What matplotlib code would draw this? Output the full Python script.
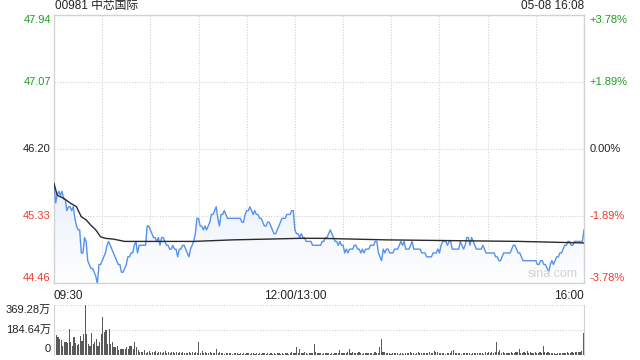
import numpy as np
import matplotlib

matplotlib.use("Agg")
import matplotlib.pyplot as plt
from matplotlib.colors import LinearSegmentedColormap
from matplotlib.transforms import blended_transform_factory

plt.rcParams["font.family"] = ["Liberation Sans", "Noto Sans CJK SC", "DejaVu Sans"]

TITLE = "00981 中芯国际"
STAMP = "05-08 16:08"
PREV_CLOSE = 46.20

# price ticks (left) and percent labels (right)
price_ticks = [44.46, 45.33, 46.20, 47.07, 47.94]
price_labels = ["44.46", "45.33", "46.20", "47.07", "47.94"]
pct_labels = ["-3.78%", "-1.89%", "0.00%", "+1.89%", "+3.78%"]

# time axis: minutes from 09:30, 12:00 and 13:00 share minute 150
time_ticks = [0, 150, 330]
time_labels = ["09:30", "12:00/13:00", "16:00"]

vol_ticks = [0, 184.64, 369.28]
vol_labels = ["0", "184.64万", "369.28万"]

# last price, one value per minute
price = [
    45.75, 45.50, 45.60, 45.65, 45.60, 45.65, 45.55, 45.55, 45.40, 45.45,
    45.45, 45.40, 45.45, 45.30, 45.20, 45.15, 45.15, 44.85, 44.85, 45.05,
    45.00, 44.75, 44.70, 44.65, 44.65, 44.60, 44.55, 44.45, 44.70, 44.70,
    44.75, 44.80, 44.85, 44.95, 45.00, 44.95, 44.90, 44.85, 44.80, 44.75,
    44.70, 44.70, 44.60, 44.60, 44.65, 44.70, 44.80, 44.80, 44.85, 44.85,
    44.95, 45.00, 44.85, 44.95, 44.95, 44.95, 44.95, 44.95, 45.20, 45.20,
    45.15, 45.10, 45.05, 45.05, 45.00, 45.05, 44.95, 45.05, 45.05, 45.00,
    44.95, 44.95, 44.90, 44.90, 44.95, 44.90, 44.90, 44.80, 44.90, 44.90,
    44.95, 44.95, 44.90, 44.85, 44.80, 44.90, 44.95, 45.00, 45.10, 45.30,
    45.30, 45.20, 45.20, 45.15, 45.20, 45.15, 45.20, 45.25, 45.35, 45.35,
    45.40, 45.45, 45.30, 45.20, 45.35, 45.35, 45.40, 45.35, 45.30, 45.30,
    45.30, 45.30, 45.30, 45.30, 45.30, 45.30, 45.30, 45.25, 45.25, 45.35,
    45.40, 45.40, 45.45, 45.40, 45.35, 45.40, 45.35, 45.35, 45.30, 45.30,
    45.25, 45.20, 45.20, 45.25, 45.25, 45.20, 45.15, 45.10, 45.10, 45.15,
    45.20, 45.25, 45.30, 45.30, 45.30, 45.35, 45.35, 45.35, 45.40, 45.40,
    45.15, 45.10, 45.10, 45.05, 45.10, 45.05, 45.05, 45.00, 45.00, 45.00,
    45.00, 44.95, 44.95, 44.95, 44.95, 44.95, 44.95, 45.00, 45.00, 45.05,
    45.05, 45.10, 45.15, 45.10, 45.05, 45.00, 45.00, 44.95, 45.00, 44.95,
    44.95, 44.85, 44.90, 44.85, 44.90, 44.90, 44.90, 44.95, 44.95, 44.90,
    44.90, 44.85, 44.90, 44.85, 44.90, 44.90, 44.90, 44.95, 44.95, 44.95,
    45.00, 45.00, 44.85, 44.80, 44.75, 44.90, 44.85, 44.90, 44.90, 44.85,
    44.85, 44.85, 44.90, 44.90, 44.90, 44.95, 45.00, 44.95, 45.00, 44.90,
    44.90, 44.90, 44.95, 45.00, 44.90, 44.90, 44.90, 44.90, 44.90, 44.85,
    44.85, 44.85, 44.80, 44.80, 44.80, 44.80, 44.85, 44.85, 44.85, 44.90,
    44.85, 44.95, 45.00, 45.00, 45.00, 44.95, 45.00, 45.00, 44.90, 44.90,
    44.90, 44.90, 44.90, 45.00, 44.95, 44.90, 44.95, 45.05, 45.05, 44.95,
    45.05, 45.00, 44.95, 44.90, 44.90, 44.90, 44.90, 44.95, 44.90, 44.85,
    44.85, 44.85, 44.85, 44.85, 44.85, 44.80, 44.80, 44.75, 44.75, 44.80,
    44.85, 44.85, 44.85, 44.85, 44.85, 44.90, 44.95, 44.95, 44.90, 44.85,
    44.85, 44.80, 44.75, 44.75, 44.75, 44.75, 44.75, 44.75, 44.75, 44.75,
    44.75, 44.70, 44.70, 44.75, 44.75, 44.70, 44.70, 44.65, 44.60, 44.70,
    44.75, 44.70, 44.75, 44.80, 44.80, 44.85, 44.85, 44.90, 44.95, 44.95,
    45.00, 45.00, 44.95, 44.95, 45.00, 45.00, 45.00, 45.00, 45.00, 45.00,
    45.15,
]

# average price, read at a few minutes
avg_minute = [0, 2, 6, 10, 14, 17, 20, 23, 26, 29, 32, 37, 44, 60, 87,
              111, 133, 153, 166, 207, 248, 290, 330]
avg_price = [45.75, 45.60, 45.56, 45.50, 45.45, 45.32, 45.28, 45.21, 45.15,
             45.06, 45.04, 45.03, 45.00, 45.00, 45.00, 45.02, 45.03, 45.04,
             45.04, 45.02, 45.01, 45.00, 44.98]

# volume per minute (万股)
volume = [
    229, 143, 131, 118, 106, 62, 94, 94, 86, 185, 94, 62, 131, 86, 70, 81,
    135, 100, 155, 369, 155, 81, 62, 160, 81, 94, 118, 62, 94, 155, 279, 168,
    180, 77, 185, 77, 94, 57, 52, 62, 32, 37, 42, 44, 44, 52, 37, 62, 62, 37,
    94, 52, 32, 17,
    22, 15, 30, 12, 18, 25, 10, 20, 15, 28, 12, 18, 22, 10, 15, 25, 12, 20,
    8, 15, 18, 12, 22, 10, 15, 12, 20, 8, 14, 10, 18, 12, 15, 10, 20, 14,
    96, 12, 25, 10, 15, 8, 12, 18, 10, 14, 8, 37,
    10, 15, 8, 12, 6, 10, 14, 8, 12, 6, 10, 8, 12, 6, 9, 7, 10, 5, 8, 12,
    6, 10, 8, 5, 9, 7, 11, 6, 8, 10, 5, 8, 6, 12, 7, 9, 5, 8, 10, 6, 9, 7,
    12, 8, 6, 10, 15, 8, 12,
    52, 10, 37, 12, 8, 15, 10, 6, 12, 9, 14, 74,
    15, 10, 8, 12, 6, 10, 14, 8, 12, 7, 10, 6, 9, 12, 8, 30,
    10, 14, 8, 12, 15, 37,
    12, 18, 10, 8, 12, 15, 10, 6, 12, 9, 14, 8, 10, 12, 7, 15, 10, 12,
    57, 118, 15, 22,
    10, 8, 12, 6, 10, 14, 8, 12, 7, 10, 9, 6, 12, 8, 10, 15, 8, 12, 6, 10,
    22, 8, 12, 9, 10, 14, 8, 22, 12, 10, 25, 18, 22, 12, 8, 10, 14, 6, 10,
    12, 8, 25, 30,
    12, 8, 10, 14, 6, 10, 12, 8, 9, 12, 6, 10, 8, 12, 14, 10, 8, 12, 6, 15,
    12, 18, 10, 22, 14, 20, 96, 15, 30,
    12, 18, 10, 14, 8, 12, 15, 10, 12, 18, 22, 40, 12, 10, 15, 8, 25,
    12, 18, 10, 14, 22, 12, 10, 18, 12, 62, 15, 10, 22,
    12, 8, 14, 10, 6, 12, 9, 14, 8, 10, 12, 15, 10, 8, 18, 12, 20, 15, 22,
    18, 25, 160,
]

GREEN = "#1f9e1f"
RED = "#f03a2e"
GREY = "#d2d2d2"
LINE = "#5591ef"

fig = plt.figure(figsize=(6.4, 3.6), dpi=100)
ax = fig.add_axes([54 / 640, 1 - 283 / 360, 530 / 640, 268 / 360])
axv = fig.add_axes([54 / 640, 1 - 354.5 / 360, 530 / 640, 50 / 360])

minutes = np.arange(len(price))
ylo, yhi = price_ticks[0], price_ticks[-1]

# soft blue gradient under the price line
poly = ax.fill_between(minutes, price, ylo, color="none", lw=0)
cmap = LinearSegmentedColormap.from_list("fade", ["#ffffff", "#e8f0fc"])
img = ax.imshow(np.linspace(0, 1, 100).reshape(-1, 1), cmap=cmap,
                extent=[0, 330, ylo, max(price)], origin="lower",
                aspect="auto", zorder=1)
img.set_clip_path(poly.get_paths()[0], transform=ax.transData)

ax.plot(minutes, price, color=LINE, lw=1.0, zorder=3)
ax.plot(avg_minute, avg_price, color="#2b2b2b", lw=1.0, zorder=4)

ax.set_xlim(0, 330)
ax.set_ylim(ylo, yhi)
ax.set_xticks([])
ax.set_yticks([])
for x in range(30, 330, 30):
    ax.axvline(x, color=GREY, lw=0.8, ls=(0, (1, 1.5)), zorder=0)
for y in price_ticks[1:-1]:
    ax.axhline(y, color=GREY, lw=0.8, ls=(0, (1, 1.5)), zorder=0)
for s in ax.spines.values():
    s.set_color(GREY)
    s.set_linewidth(1.0)

# price / percent labels
tl = blended_transform_factory(ax.transAxes, ax.transData)
for i, (p, lab, pl) in enumerate(zip(price_ticks, price_labels, pct_labels)):
    col = GREEN if p > PREV_CLOSE else (RED if p < PREV_CLOSE else "#222222")
    va = "bottom" if i == 0 else ("top" if i == len(price_ticks) - 1 else "center")
    ax.text(-0.006, p, lab, transform=tl, ha="right", va=va, color=col,
            fontsize=8)
    ax.text(1.011, p, pl, transform=tl, ha="left", va=va, color=col,
            fontsize=8)

# time labels
tx = blended_transform_factory(ax.transData, ax.transAxes)
for t, lab in zip(time_ticks, time_labels):
    ha = "left" if t == 0 else ("right" if t == 330 else "center")
    ax.text(t, -0.025, lab, transform=tx, ha=ha, va="top", fontsize=8.5,
            color="#222222")

ax.text(0.002, 1.01, TITLE, transform=ax.transAxes, ha="left", va="bottom",
        fontsize=8.5, color="#222222")
ax.text(1.0, 1.01, STAMP, transform=ax.transAxes, ha="right", va="bottom",
        fontsize=8.5, color="#222222")
ax.text(0.94, 0.012, "sina.com", transform=ax.transAxes, ha="center",
        va="bottom", fontsize=9, color="#d0d0d0", zorder=5)

# volume panel
axv.bar(np.arange(len(volume)), volume, width=0.7, color="#5a5a5a", lw=0)
axv.set_xlim(-0.5, 330.5)
axv.set_ylim(0, vol_ticks[-1])
axv.set_xticks([])
axv.set_yticks([])
for y in vol_ticks[1:]:
    axv.axhline(y, color=GREY, lw=0.8, ls=(0, (1, 1.5)), zorder=0,
                clip_on=False)
axv.spines["top"].set_visible(False)
axv.spines["bottom"].set_visible(False)
for side in ("left", "right"):
    axv.spines[side].set_color(GREY)
tv = blended_transform_factory(axv.transAxes, axv.transData)
for i, (v, lab) in enumerate(zip(vol_ticks, vol_labels)):
    va = "bottom" if i == 0 else ("top" if i == len(vol_ticks) - 1 else "center")
    axv.text(-0.006, v, lab, transform=tv, ha="right", va=va, fontsize=8,
             color="#222222")

fig.savefig("out.png", dpi=100)
